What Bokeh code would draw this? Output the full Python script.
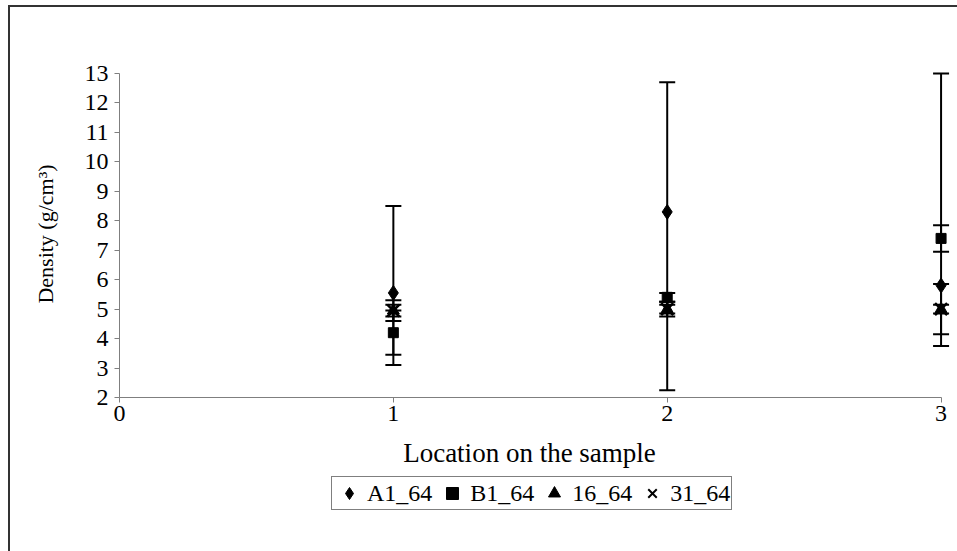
from bokeh.plotting import figure
from bokeh.layouts import column
from bokeh.models import ColumnDataSource, Legend, LegendItem, Range1d, FixedTicker
from bokeh.core.properties import value
from bokeh.embed import file_html
from bokeh.resources import INLINE

# ---- data ----
locations = [1, 2, 3]
a1_64 = [5.55, 8.3, 5.8]
a1_64_low = [3.1, 2.25, 3.75]
a1_64_high = [8.5, 12.7, 13.0]
b1_64 = [4.2, 5.4, 7.4]
b1_64_low = [3.45, 5.25, 6.95]
b1_64_high = [4.95, 5.55, 7.85]
s16_64 = [4.95, 5.0, 5.0]
s16_64_low = [4.75, 4.85, 4.85]
s16_64_high = [5.15, 5.15, 5.15]
s31_64 = [4.95, 5.0, 5.0]
s31_64_low = [4.6, 4.75, 4.15]
s31_64_high = [5.3, 5.25, 5.85]
x_ticks = [0, 1, 2, 3]
y_ticks = list(range(2, 14))
x_title = "Location on the sample"
y_title = "Density (g/cm³)"

FONT = "Liberation Serif"
W = 947
FRAME_W = 838
H_TOP = 428
H_BOTTOM = 116

p = figure(width=W, height=H_TOP, output_backend="svg", toolbar_location=None,
           x_range=Range1d(0, 3.06), y_range=Range1d(2, 13.1),
           min_border_left=109, min_border_right=0, min_border_top=63, min_border_bottom=38)
p.outline_line_color = None
p.grid.visible = False
p.background_fill_color = "white"
p.border_fill_color = "white"

for ax in (p.xaxis[0], p.yaxis[0]):
    ax.axis_line_color = "#7f7f7f"
    ax.major_tick_line_color = "#7f7f7f"
    ax.minor_tick_line_color = None
    ax.major_label_text_font = FONT
    ax.major_label_text_font_size = "24px"
    ax.major_label_text_color = "black"
    ax.axis_label_text_font = FONT
    ax.axis_label_text_font_size = "22px"
    ax.axis_label_text_font_style = "normal"
    ax.axis_label_text_color = "black"
    ax.major_tick_in = 0
    ax.major_tick_out = 5

p.xaxis[0].ticker = FixedTicker(ticks=x_ticks)
p.xaxis[0].bounds = (0, 3)
p.xaxis[0].major_label_standoff = 3
p.yaxis[0].ticker = FixedTicker(ticks=y_ticks)
p.yaxis[0].bounds = (2, 13)
p.yaxis[0].axis_label = y_title
p.yaxis[0].major_label_standoff = 6
p.yaxis[0].axis_label_standoff = 24

series = [
    (a1_64, a1_64_low, a1_64_high, "diamond", 15, "A1_64"),
    (b1_64, b1_64_low, b1_64_high, "square", 10, "B1_64"),
    (s16_64, s16_64_low, s16_64_high, "triangle", 12, "16_64"),
    (s31_64, s31_64_low, s31_64_high, "x", 17, "31_64"),
]

for vals, lo, hi, marker, size, name in series:
    src = ColumnDataSource(dict(x=locations, y=vals, lo=lo, hi=hi))
    p.segment(x0="x", y0="lo", x1="x", y1="hi", source=src, line_color="black", line_width=2)
    p.scatter(x="x", y="lo", source=src, marker="dash", size=16, line_color="black", line_width=2)
    p.scatter(x="x", y="hi", source=src, marker="dash", size=16, line_color="black", line_width=2)
    p.scatter(x="x", y="y", source=src, marker=marker, size=size,
              fill_color="black", line_color="black",
              line_width=2.5 if marker == "x" else 1)

# lower strip: x-axis title and legend (its frame is aligned with the plot's frame)
q = figure(width=W, height=H_BOTTOM, output_backend="svg", toolbar_location=None,
           x_range=Range1d(0, FRAME_W), y_range=Range1d(0, H_BOTTOM),
           x_axis_location=None, y_axis_location=None, min_border=0)
q.outline_line_color = None
q.grid.visible = False
q.background_fill_color = "white"
q.border_fill_color = "white"

q.text(x=[410], y=[H_BOTTOM - 17], text=[x_title], text_font=value(FONT),
       text_font_size="27px", text_align="center", text_baseline="middle", text_color="black")

items = []
for vals, lo, hi, marker, size, name in series:
    r = q.scatter(x=[-100], y=[-100], marker=marker, size=size, fill_color="black",
                  line_color="black", line_width=2 if marker == "x" else 1)
    items.append(LegendItem(label=name, renderers=[r]))

legend = Legend(items=items, orientation="horizontal", location=(212, 41),
                label_text_font=FONT, label_text_font_size="24px", label_text_color="black",
                border_line_color="black", border_line_width=1,
                glyph_width=32, glyph_height=30, label_standoff=2, spacing=4,
                padding=1, margin=0, label_height=20)
q.add_layout(legend, "center")

layout = column(p, q, spacing=0,
                styles={"margin-left": "8px", "margin-top": "5px",
                        "border-left": "2px solid #333333", "border-top": "2px solid #333333"})

open("out.html", "w").write(file_html(layout, INLINE))
